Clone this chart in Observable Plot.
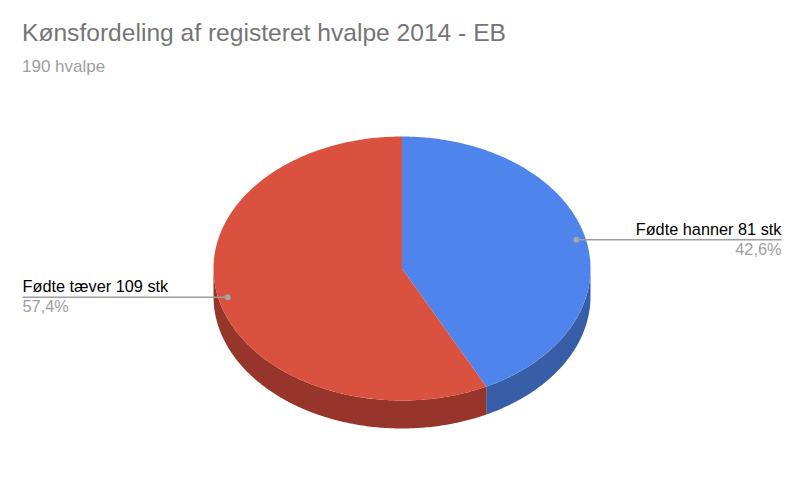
<!DOCTYPE html>
<html><head><meta charset="utf-8">
<script src="https://cdn.jsdelivr.net/npm/d3@7"></script>
<script src="https://cdn.jsdelivr.net/npm/@observablehq/plot@0.6"></script>
<style>
html,body{margin:0;padding:0;background:#fff;font-family:"Liberation Sans",Arial,sans-serif;}
#head{height:84px;position:relative;width:800px;overflow:hidden}
#t{position:absolute;left:22px;top:18px;font-size:24.6px;line-height:30px;color:#757575;white-space:nowrap}
#s{position:absolute;left:22px;top:57px;font-size:17px;line-height:20px;color:#9e9e9e;white-space:nowrap}
svg{display:block}
</style></head><body>
<div id="head"><div id="t">Kønsfordeling af registeret hvalpe 2014 - EB</div><div id="s">190 hvalpe</div></div>
<div id="chart"></div>
<script>
const categories = ["Fødte hanner 81 stk", "Fødte tæver 109 stk"];
const counts = [81, 109];
const percentLabels = ["42,6%", "57,4%"];
const topColors = ["#4f84ec", "#db5140"];
const sideColors = ["#395ea8", "#97352b"];
const depth = 0.212;
const leaderReach = [2.013, -2.013];

const total = d3.sum(counts);
let acc = 0;
const slices = counts.map((c, i) => {
  const a0 = acc / total * 2 * Math.PI; acc += c;
  return {i, a0, a1: acc / total * 2 * Math.PI};
});
const pt = (a, dy = 0) => ({x: Math.sin(a), y: Math.cos(a) - dy});
const arc = (a0, a1, dy = 0) => {
  const n = Math.max(2, Math.ceil((a1 - a0) * 90));
  return d3.range(n + 1).map(k => pt(a0 + (a1 - a0) * k / n, dy));
};
const marks = [];
slices.forEach(s => {
  const f0 = Math.max(s.a0, Math.PI / 2), f1 = Math.min(s.a1, 3 * Math.PI / 2);
  const wall = [...arc(f0, f1), ...arc(f0, f1, depth).reverse()];
  marks.push(Plot.line(wall, {x: "x", y: "y", fill: sideColors[s.i], stroke: "none"}));
});
slices.forEach(s => {
  const poly = [{x: 0, y: 0}, ...arc(s.a0, s.a1), {x: 0, y: 0}];
  marks.push(Plot.line(poly, {x: "x", y: "y", fill: topColors[s.i], stroke: "none"}));
});
const labels = slices.map(s => {
  const m = (s.a0 + s.a1) / 2;
  return {
    x: 0.95 * Math.sin(m), y: 0.95 * Math.cos(m),
    end: leaderReach[s.i], name: categories[s.i], pct: percentLabels[s.i]
  };
});
const right = labels.filter(d => d.end > 0), left = labels.filter(d => d.end < 0);
const chart = Plot.plot({
  width: 800, height: 407, margin: 0, axis: null,
  x: {domain: [-1, 1], range: [213, 590]},
  y: {domain: [1, -1], range: [52, 316]},
  style: {background: "#fff", fontFamily: '"Liberation Sans",Arial,sans-serif'},
  marks: [
    ...marks,
    Plot.link(labels, {x1: "x", y1: "y", x2: "end", y2: "y", stroke: "#9e9e9e", strokeWidth: 1.5}),
    Plot.dot(labels, {x: "x", y: "y", r: 3, fill: "#a6a6a6", stroke: "none"}),
    Plot.text(right, {x: "end", y: "y", text: "pct", textAnchor: "end", dy: 10, fill: "#9e9e9e", fontSize: 16.3}),
    Plot.text(left, {x: "end", y: "y", text: "pct", textAnchor: "start", dy: 10, fill: "#9e9e9e", fontSize: 16.3}),
    Plot.text(right, {x: "end", y: "y", text: "name", textAnchor: "end", dy: -10, fill: "#000", fontSize: 16.3}),
    Plot.text(left, {x: "end", y: "y", text: "name", textAnchor: "start", dy: -10, fill: "#000", fontSize: 16.3})
  ]
});
document.getElementById("chart").append(chart);
</script></body></html>
